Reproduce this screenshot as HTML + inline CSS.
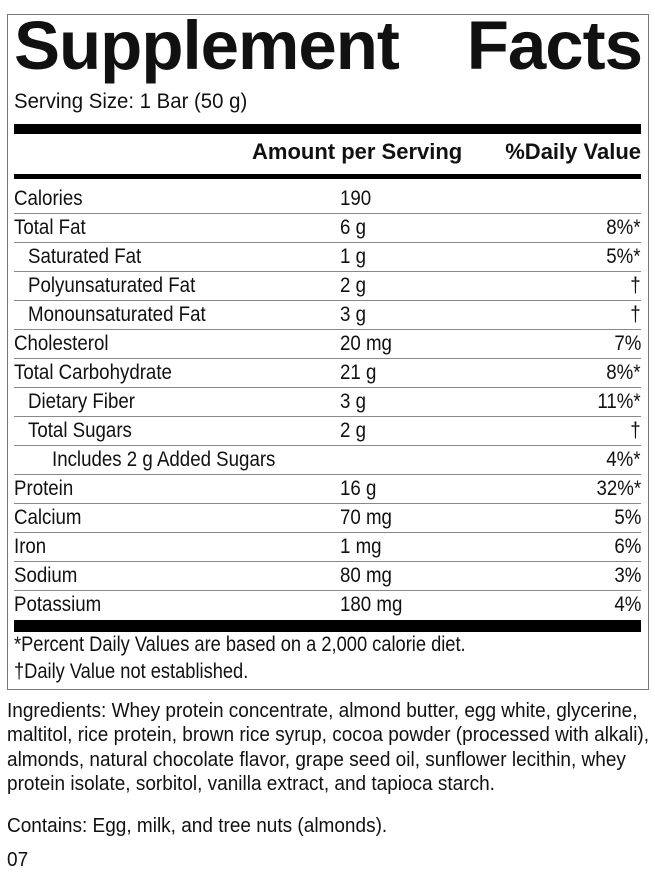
<!DOCTYPE html>
<html><head><style>
body{margin:0;width:655px;height:879px;background:#fff;font-family:"Liberation Sans",sans-serif;color:#111;position:relative;overflow:hidden}
.box{position:absolute;left:7px;top:14px;width:640px;height:674px;border:1px solid #777}
.t{position:absolute;white-space:nowrap}
.n{display:inline-block;transform:scaleX(0.89);transform-origin:left center}
.r{display:inline-block;transform:scaleX(0.89);transform-origin:right center}
h1{position:absolute;left:14px;top:6px;margin:0;font-family:"Liberation Sans",sans-serif;font-weight:bold;font-size:69px;letter-spacing:-1px;width:628px;display:flex;justify-content:space-between}
.bar{position:absolute;left:14px;width:627px;background:#000}
.row{position:absolute;left:14px;width:627px;height:29px;border-bottom:1px solid #888;font-size:21px}
.row span{position:absolute;top:3px;white-space:nowrap}
.a{left:326px}.d{right:0}
.ing{position:absolute;left:7px;font-size:20px;white-space:nowrap;transform:scaleX(0.95);transform-origin:left top;line-height:24.3px}
</style></head><body>
<div class="box"></div>
<h1><span>Supplement</span><span>Facts</span></h1>
<div class="t" style="left:14px;top:90px;font-size:21px"><span class="n" style="transform:scaleX(0.97)">Serving Size: 1 Bar (50 g)</span></div>
<div class="bar" style="top:124px;height:10px"></div>
<div class="t" style="left:252px;top:139px;font-size:22px;font-weight:bold">Amount per Serving</div>
<div class="t" style="right:14px;top:139px;font-size:22px;font-weight:bold">%Daily Value</div>
<div class="bar" style="top:174px;height:5px"></div>
<div class="row" style="top:184px"><span style="left:0" class="n">Calories</span><span class="a n">190</span></div>
<div class="row" style="top:213px"><span style="left:0" class="n">Total Fat</span><span class="a n">6 g</span><span class="d r">8%*</span></div>
<div class="row" style="top:242px"><span style="left:14px" class="n">Saturated Fat</span><span class="a n">1 g</span><span class="d r">5%*</span></div>
<div class="row" style="top:271px"><span style="left:14px" class="n">Polyunsaturated Fat</span><span class="a n">2 g</span><span class="d r">†</span></div>
<div class="row" style="top:300px"><span style="left:14px" class="n">Monounsaturated Fat</span><span class="a n">3 g</span><span class="d r">†</span></div>
<div class="row" style="top:329px"><span style="left:0" class="n">Cholesterol</span><span class="a n">20 mg</span><span class="d r">7%</span></div>
<div class="row" style="top:358px"><span style="left:0" class="n">Total Carbohydrate</span><span class="a n">21 g</span><span class="d r">8%*</span></div>
<div class="row" style="top:387px"><span style="left:14px" class="n">Dietary Fiber</span><span class="a n">3 g</span><span class="d r">11%*</span></div>
<div class="row" style="top:416px"><span style="left:14px" class="n">Total Sugars</span><span class="a n">2 g</span><span class="d r">†</span></div>
<div class="row" style="top:445px"><span style="left:38px" class="n">Includes 2 g Added Sugars</span><span class="d r">4%*</span></div>
<div class="row" style="top:474px"><span style="left:0" class="n">Protein</span><span class="a n">16 g</span><span class="d r">32%*</span></div>
<div class="row" style="top:503px"><span style="left:0" class="n">Calcium</span><span class="a n">70 mg</span><span class="d r">5%</span></div>
<div class="row" style="top:532px"><span style="left:0" class="n">Iron</span><span class="a n">1 mg</span><span class="d r">6%</span></div>
<div class="row" style="top:561px"><span style="left:0" class="n">Sodium</span><span class="a n">80 mg</span><span class="d r">3%</span></div>
<div class="row" style="top:590px;border:none"><span style="left:0" class="n">Potassium</span><span class="a n">180 mg</span><span class="d r">4%</span></div>
<div class="bar" style="top:620px;height:12px"></div>
<div class="t" style="left:14px;top:633px;font-size:21px"><span class="n" style="transform:scaleX(0.87)">*Percent Daily Values are based on a 2,000 calorie diet.</span></div>
<div class="t" style="left:14px;top:660px;font-size:21px"><span class="n" style="transform:scaleX(0.87)">†Daily Value not established.</span></div>
<div class="ing" style="top:699px">Ingredients: Whey protein concentrate, almond butter, egg white, glycerine,<br>maltitol, rice protein, brown rice syrup, cocoa powder (processed with alkali),<br>almonds, natural chocolate flavor, grape seed oil, sunflower lecithin, whey<br>protein isolate, sorbitol, vanilla extract, and tapioca starch.</div>
<div class="ing" style="top:814px">Contains: Egg, milk, and tree nuts (almonds).</div>
<div class="ing" style="top:848px">07</div>
</body></html>
